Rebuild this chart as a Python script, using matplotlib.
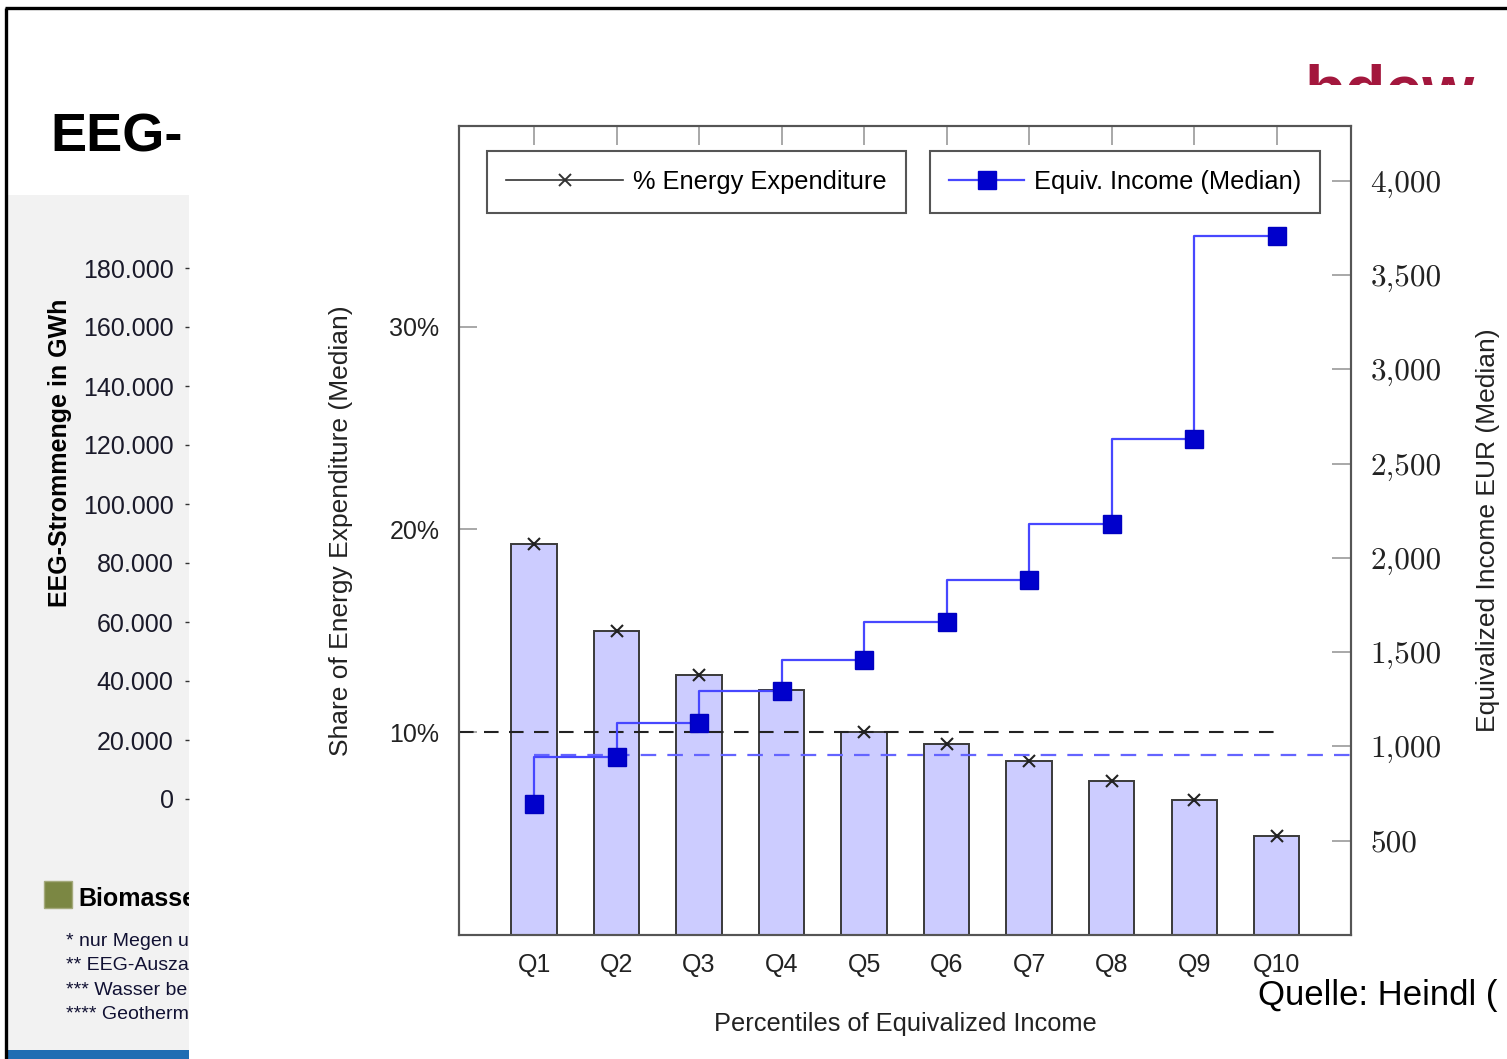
import matplotlib.pyplot as plt
from matplotlib.lines import Line2D
from matplotlib.patches import Rectangle
import numpy as np

plt.rcParams["font.family"] = ["Liberation Sans", "DejaVu Sans"]

# income deciles and their medians
quantiles = ["Q1", "Q2", "Q3", "Q4", "Q5", "Q6", "Q7", "Q8", "Q9", "Q10"]
energy_share = [19.3, 15.0, 12.8, 12.1, 10.0, 9.4, 8.6, 7.6, 6.65, 4.9]
income_median = [695, 945, 1125, 1295, 1460, 1660, 1885, 2180, 2630, 3705]
share_overall = 10.0
income_overall = 955

share_ticks = [10, 20, 30]
share_labels = ["10%", "20%", "30%"]
income_ticks = [500, 1000, 1500, 2000, 2500, 3000, 3500, 4000]
income_labels = [f"{v:,}" for v in income_ticks]

# slide behind the chart
strom_ticks = [0, 20000, 40000, 60000, 80000, 100000, 120000, 140000, 160000, 180000]
strom_labels = ["0", "20.000", "40.000", "60.000", "80.000", "100.000",
                "120.000", "140.000", "160.000", "180.000"]
footnotes = ["* nur Megen u", "** EEG-Ausza", "*** Wasser be", "**** Geotherm"]

W, H = 1507, 1059
fig = plt.figure(figsize=(W / 100, H / 100), dpi=100)

bg = fig.add_axes([0, 0, 1, 1])
bg.set_xlim(0, W)
bg.set_ylim(H, 0)
bg.axis("off")

bg.plot([5, W], [8, 8], color="black", lw=2.4, solid_capstyle="butt")
bg.plot([6, 6], [8, H], color="black", lw=2.4, solid_capstyle="butt")
bg.add_patch(Rectangle((8, 195), 181, 860, color="#f2f2f2", lw=0))
bg.add_patch(Rectangle((8, 1050), 181, 9, color="#1f6db3", lw=0))
bg.text(50, 151, "EEG-", fontsize=39, fontweight="bold", va="baseline")
bg.text(1305, 111, "bdew", fontsize=48, fontweight="bold", color="#a3173d", va="baseline")
bg.add_patch(Rectangle((44, 881), 28, 27, facecolor="#7b8743", edgecolor="#a4aa7c", lw=1))
bg.text(78, 899, "Biomasse", fontsize=18, fontweight="bold", va="center")
for i, note in enumerate(footnotes):
    bg.text(66, 941 + i * 24.6, note, fontsize=14, va="center", color="#111133")
bg.text(60, 453, "EEG-Strommenge in GWh", rotation=90, fontsize=18,
        fontweight="bold", ha="center", va="center")
bg.add_patch(Rectangle((189, 85), W - 189, H - 85, color="white", lw=0, zorder=10))

# left over y axis of the slide's own chart
pan = fig.add_axes([189 / W, (H - 830) / H, 0.0005, 600 / H])
pan.set_ylim((799 - 830) / 59 * 20000, (799 - 230) / 59 * 20000)
pan.set_yticks(strom_ticks, strom_labels)
pan.set_xticks([])
pan.tick_params(axis="y", length=3, width=1, color="#333333", pad=8,
                labelsize=18, labelcolor="#1a1a2a")
for sp in pan.spines.values():
    sp.set_visible(False)
pan.patch.set_visible(False)

# main chart
ax = fig.add_axes([459 / W, (H - 935) / H, (1351 - 459) / W, (935 - 126) / H])
x = np.arange(1, len(quantiles) + 1)

ax.bar(x, energy_share, width=0.55, color="#ccccff", edgecolor="#3a3a3a", lw=1.4, zorder=2)
ax.plot(x, energy_share, ls="none", marker="x", ms=9, mew=1.5, color="#222222", zorder=4)
ax.axhline(share_overall, xmin=0, xmax=0.925, ls=(0, (7, 5)), color="#222222", lw=1.5, zorder=3)

ax.set_xlim(0.09, 10.9)
ax.set_ylim(0, 39.9)
ax.set_xticks(x, quantiles)
ax.set_yticks(share_ticks, share_labels)
ax.tick_params(axis="x", bottom=False, top=True, direction="in", length=14, width=1.2,
               color="#999999", labelsize=18, pad=13, labelcolor="#222222")
ax.tick_params(axis="y", direction="in", length=13, width=1.2, color="#999999",
               labelsize=18, pad=14, labelcolor="#222222")
ax.set_xlabel("Percentiles of Equivalized Income", fontsize=18.3, labelpad=25, color="#222222")
ax.set_ylabel("Share of Energy Expenditure (Median)", fontsize=19, labelpad=26, color="#222222")

ax2 = ax.twinx()
ax2.hlines(income_overall, x[0], 10.9, ls=(0, (7, 5)), color="#6464ff", lw=1.6, zorder=3)
ax2.plot(x, income_median, drawstyle="steps-pre", color="#4747ff", lw=1.6, zorder=3)
ax2.plot(x, income_median, ls="none", marker="s", ms=13, color="#0000cc", mec="#0000c0", zorder=4)
ax2.set_ylim(0, 4290)
ax2.set_yticks(income_ticks, income_labels, fontfamily="cmr10", fontsize=22.5)
ax2.tick_params(axis="y", direction="in", length=14, width=1.2, color="#999999",
                pad=14, labelcolor="#222222")
ax2.set_ylabel("Equivalized Income EUR (Median)", fontsize=19, labelpad=25, color="#222222")

for a in (ax, ax2):
    for sp in a.spines.values():
        sp.set_color("#555555")
        sp.set_linewidth(1.5)

h1 = Line2D([], [], color="#333333", lw=1.2, marker="x", ms=9, mew=1.4)
h2 = Line2D([], [], color="#4747ff", lw=1.6, marker="s", ms=13, mfc="#0000cc", mec="#0000cc")
leg_style = dict(loc="upper left", borderaxespad=0, handletextpad=0.4, borderpad=0.75,
                 fancybox=False, edgecolor="#555555", framealpha=1, fontsize=18.3)
leg1 = ax2.legend([h1], ["% Energy Expenditure"], bbox_to_anchor=(0.0314, 0.969),
                  handlelength=4.6, **leg_style)
leg1.get_frame().set_linewidth(1.5)
ax2.add_artist(leg1)
leg2 = ax2.legend([h2], ["Equiv. Income (Median)"], bbox_to_anchor=(0.528, 0.969),
                  handlelength=2.95, **leg_style)
leg2.get_frame().set_linewidth(1.5)

fig.text(1258 / W, 1 - 995 / H, "Quelle: Heindl (", fontsize=25, va="center")

fig.savefig("out.png", dpi=100)
